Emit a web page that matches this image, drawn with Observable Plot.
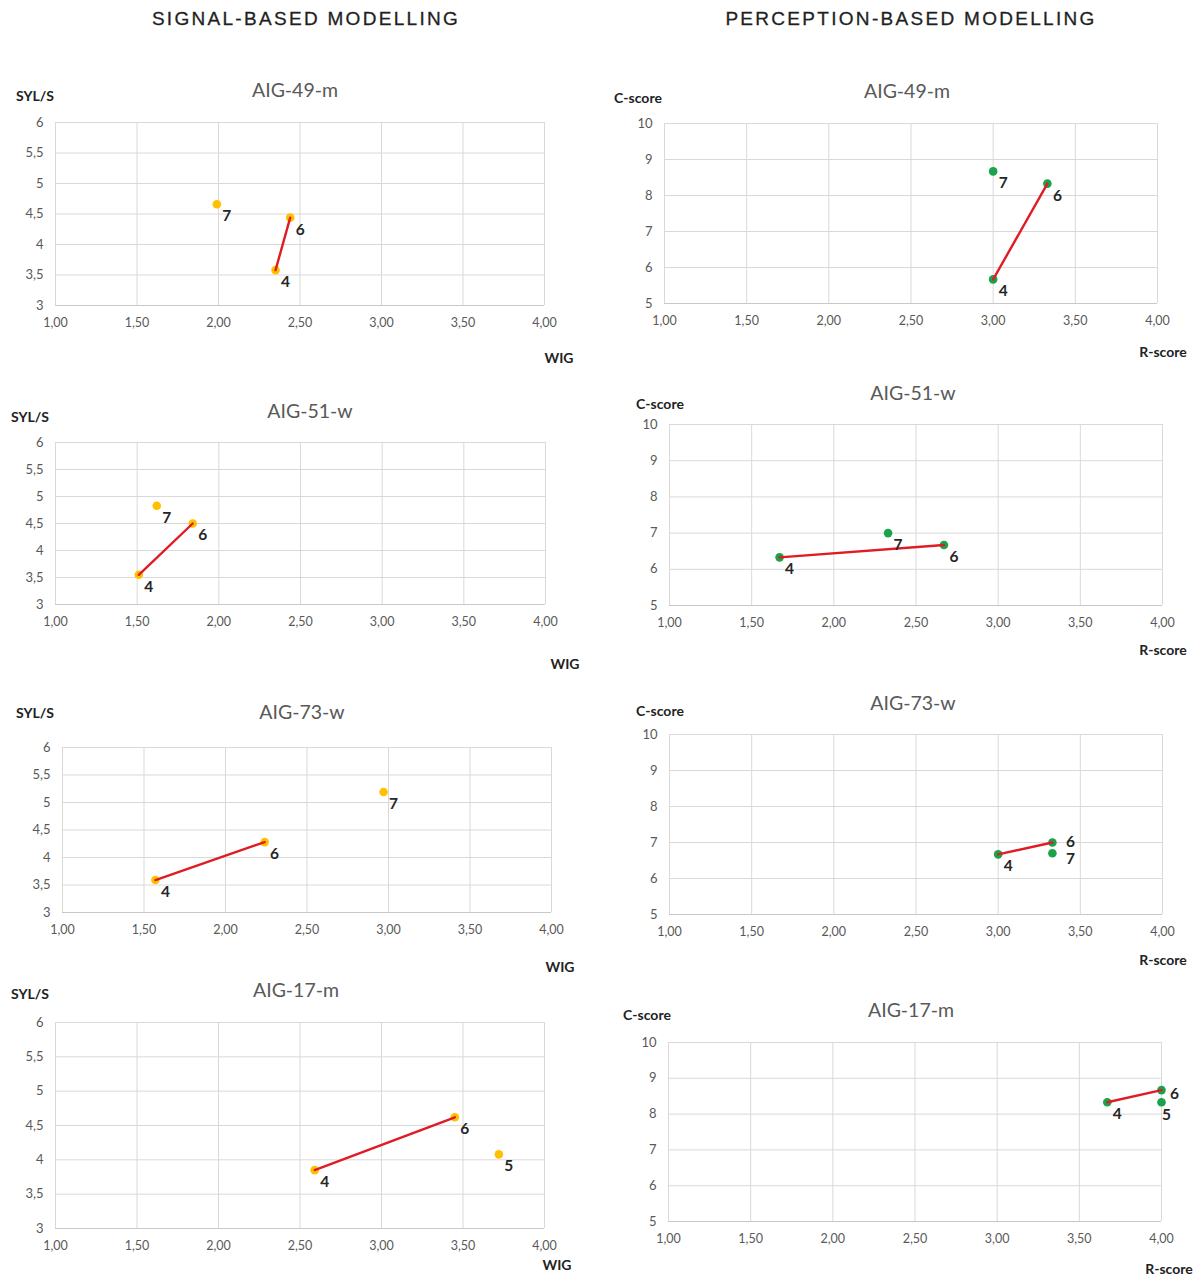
<!DOCTYPE html>
<html><head><meta charset="utf-8">
<script src="https://cdn.jsdelivr.net/npm/d3@7"></script>
<script src="https://cdn.jsdelivr.net/npm/@observablehq/plot@0.6"></script>
<style>
body{margin:0;background:#fff;}
#root{position:relative;width:1198px;height:1276px;overflow:hidden;font-family:Lato,"Open Sans",sans-serif;}
.abs{position:absolute;white-space:nowrap;line-height:1;}
.head{font-family:"Liberation Sans",Arial,sans-serif;font-size:19px;letter-spacing:2.3px;color:#1f1f1f;transform:translate(-50%,-50%);-webkit-text-stroke:0.3px #1f1f1f;}
.title{font-size:19.5px;color:#595959;transform:translate(-50%,-50%);}
.axlab{font-weight:bold;font-size:14px;color:#222;transform:translate(-50%,-50%);}
.plot{position:absolute;}
</style></head><body><div id="root"></div>
<script>
// ---------- data ----------
const headers = ["SIGNAL-BASED MODELLING", "PERCEPTION-BASED MODELLING"];
const titles = ["AIG-49-m", "AIG-51-w", "AIG-73-w", "AIG-17-m"];
const signalAxis = {x: "WIG", y: "SYL/S"};
const perceptionAxis = {x: "R-score", y: "C-score"};
const xTicks = [1, 1.5, 2, 2.5, 3, 3.5, 4];
const signalYTicks = [3, 3.5, 4, 4.5, 5, 5.5, 6];
const perceptionYTicks = [5, 6, 7, 8, 9, 10];
const linkedSessions = ["4", "6"];

const sig49m = [{s: "4", x: 2.35, y: 3.58}, {s: "6", x: 2.44, y: 4.44}, {s: "7", x: 1.99, y: 4.66}];
const sig51w = [{s: "4", x: 1.51, y: 3.55}, {s: "6", x: 1.84, y: 4.50}, {s: "7", x: 1.62, y: 4.83}];
const sig73w = [{s: "4", x: 1.57, y: 3.59}, {s: "6", x: 2.24, y: 4.28}, {s: "7", x: 2.97, y: 5.19}];
const sig17m = [{s: "4", x: 2.59, y: 3.85}, {s: "6", x: 3.45, y: 4.62}, {s: "5", x: 3.72, y: 4.08}];

const per49m = [{s: "4", x: 3.00, y: 5.67}, {s: "6", x: 3.33, y: 8.33}, {s: "7", x: 3.00, y: 8.67}];
const per51w = [{s: "4", x: 1.67, y: 6.33}, {s: "6", x: 2.67, y: 6.67}, {s: "7", x: 2.33, y: 7.00}];
const per73w = [{s: "4", x: 3.00, y: 6.67}, {s: "6", x: 3.33, y: 7.00}, {s: "7", x: 3.33, y: 6.70}];
const per17m = [{s: "4", x: 3.67, y: 8.33}, {s: "6", x: 4.00, y: 8.67}, {s: "5", x: 4.00, y: 8.33}];

// ---------- layout (pixel frames: left, right, top, bottom) ----------
const panels = [
  {data: sig49m, kind: "signal", title: 0, frame: [55, 544, 122, 305], titleAt: [295, 90], yLab: [35, 96], xLab: [559, 358]},
  {data: sig51w, kind: "signal", title: 1, frame: [55, 545, 442, 604], titleAt: [310, 411], yLab: [30, 417], xLab: [565, 664]},
  {data: sig73w, kind: "signal", title: 2, frame: [62, 551, 747, 912], titleAt: [302, 712], yLab: [35, 713], xLab: [560, 967]},
  {data: sig17m, kind: "signal", title: 3, frame: [55, 544, 1022, 1228], titleAt: [296, 990], yLab: [30, 994], xLab: [557, 1265]},
  {data: per49m, kind: "perception", title: 0, frame: [664, 1157, 123, 303], titleAt: [907, 91], yLab: [638, 98], xLab: [1163, 352]},
  {data: per51w, kind: "perception", title: 1, frame: [669, 1162, 424, 605], titleAt: [913, 393], yLab: [660, 404], xLab: [1163, 650]},
  {data: per73w, kind: "perception", title: 2, frame: [669, 1162, 734, 914], titleAt: [913, 703], yLab: [660, 711], xLab: [1163, 960]},
  {data: per17m, kind: "perception", title: 3, frame: [668, 1161, 1042, 1221], titleAt: [911, 1010], yLab: [647, 1015], xLab: [1169, 1269]}
];
// label offsets differing from the default
const labelOffsets = {"6:6": [18, 0], "6:7": [18, 6], "7:6": [13, 4], "7:5": [5, 13]};
const defaultOffset = [10, 12];

const root = document.getElementById("root");
function addText(cls, text, x, y) {
  const el = document.createElement("div");
  el.className = "abs " + cls;
  el.textContent = text;
  el.style.left = x + "px";
  el.style.top = y + "px";
  root.appendChild(el);
}
addText("head", headers[0], 306, 18);
addText("head", headers[1], 911, 18);

const fmtX = v => d3.format(".2f")(v).replace(".", ",");
const fmtY = v => String(v).replace(".", ",");

panels.forEach((p, i) => {
  const [fl, fr, ft, fb] = p.frame;
  const colLeft = fl < 600 ? 0 : 600;
  const mt = 12, mb = 32;
  const yTicks = p.kind === "signal" ? signalYTicks : perceptionYTicks;
  const yDomain = [yTicks[0], yTicks[yTicks.length - 1]];
  const dotColor = p.kind === "signal" ? "#ffc000" : "#1aa34a";
  const textMarks = p.data.map(d => {
    const off = labelOffsets[i + ":" + d.s] || defaultOffset;
    return Plot.text([d], {x: "x", y: "y", text: "s", dx: off[0], dy: off[1],
      fontWeight: "bold", fontSize: 15.5, fill: "#262626", fontFamily: "Lato"});
  });
  const chart = Plot.plot({
    width: 598,
    height: fb - ft + mt + mb,
    marginLeft: fl - colLeft,
    marginRight: 598 - (fr - colLeft),
    marginTop: mt,
    marginBottom: mb,
    style: {fontFamily: "Lato, 'Open Sans', sans-serif", fontSize: "12px", color: "#595959", background: "transparent", overflow: "visible"},
    x: {domain: [1, 4], label: null},
    y: {domain: yDomain, label: null},
    marks: [
      Plot.gridX(xTicks, {stroke: "#d9d9d9", strokeOpacity: 1, strokeWidth: 1}),
      Plot.gridY(yTicks, {stroke: "#d9d9d9", strokeOpacity: 1, strokeWidth: 1}),
      Plot.ruleY([yDomain[0]], {stroke: "#c8c8c8", strokeWidth: 1.2}),
      Plot.axisX(xTicks, {tickFormat: fmtX, tickSize: 0, tickPadding: 13, label: null, fill: "#595959", fontSize: 12.5}),
      Plot.axisY(yTicks, {tickFormat: fmtY, tickSize: 0, tickPadding: 12, label: null, fill: "#595959", fontSize: 13}),
      Plot.dot(p.data, {x: "x", y: "y", r: 4.3, fill: dotColor, stroke: null}),
      Plot.line(p.data.filter(d => linkedSessions.includes(d.s)), {x: "x", y: "y", stroke: "#e01b24", strokeWidth: 2.4}),
      ...textMarks
    ]
  });
  chart.classList.add("plot");
  chart.style.left = colLeft + "px";
  chart.style.top = (ft - mt) + "px";
  root.appendChild(chart);
  const ax = p.kind === "signal" ? signalAxis : perceptionAxis;
  addText("title", titles[p.title], p.titleAt[0], p.titleAt[1]);
  addText("axlab", ax.y, p.yLab[0], p.yLab[1]);
  addText("axlab", ax.x, p.xLab[0], p.xLab[1]);
});
</script></body></html>
